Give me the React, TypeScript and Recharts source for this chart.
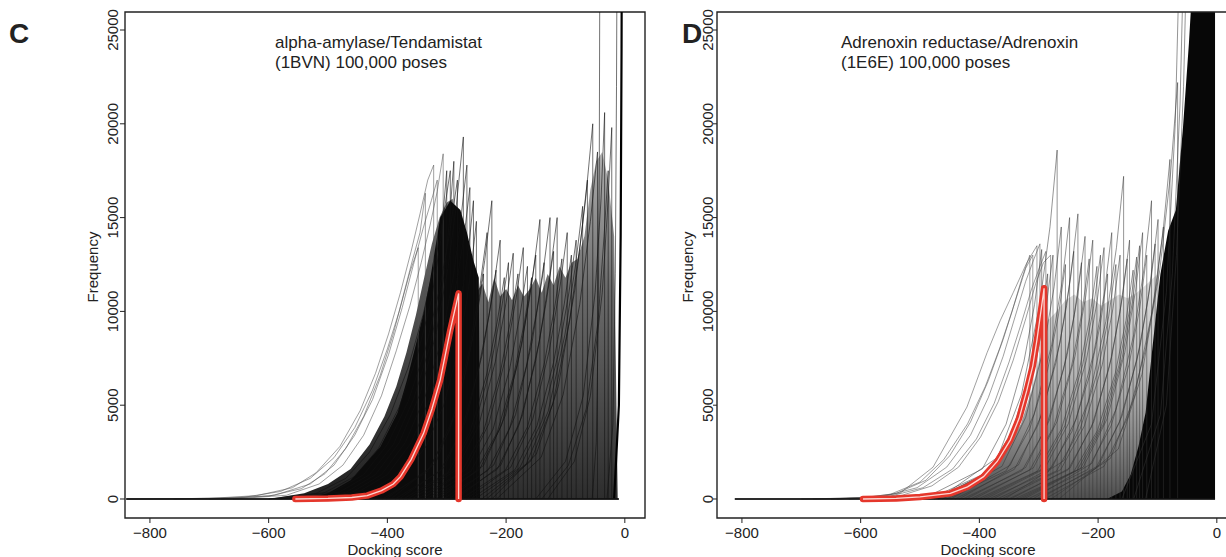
import React from 'react';
import { ComposedChart, Line, Area, XAxis, YAxis, ReferenceArea } from 'recharts';

type Pt = [number, number];

const FONT = '"Liberation Sans", Arial, Helvetica, sans-serif';

const xTicks = [-800, -600, -400, -200, 0];
const yTicks = [0, 5000, 10000, 15000, 20000, 25000];
const xDomain: [number, number] = [-842, 34];
const yDomain: [number, number] = [-1013, 25960];

// ---- panel C : alpha-amylase / Tendamistat ----
const cTitle = ['alpha-amylase/Tendamistat', '(1BVN) 100,000 poses'];

const cBase: Pt[] = [[-840, 0], [-640, 0], [-10, 0]];

// dense grey curves just left of the black core
const cBand: Pt[] = [
  [-600, 0], [-540, 300], [-500, 800], [-462, 1600], [-430, 2900], [-405, 4400],
  [-385, 6000], [-368, 7800], [-352, 9800], [-338, 11800], [-325, 13600], [-312, 15000],
  [-300, 15800], [-290, 16000], [-244, 0],
];

const cCoreMass: Pt[] = [
  [-540, 0], [-500, 300], [-462, 1000], [-412, 2770], [-383, 4580], [-367, 6340],
  [-353, 8100], [-339, 9900], [-328, 11700], [-311, 15000], [-294, 15900],
  [-277, 15400], [-266, 14200], [-255, 12700], [-246, 11800], [-244, 0],
];

const cMidMass: Pt[] = [
  [-250, 0], [-250, 11000], [-240, 11500], [-230, 10500], [-220, 11800], [-210, 10800],
  [-200, 11200], [-190, 10600], [-180, 11400], [-170, 10800], [-160, 11200], [-150, 11800],
  [-140, 11000], [-130, 12000], [-120, 11400], [-110, 12400], [-100, 11800], [-90, 12600],
  [-80, 12800], [-68, 14000], [-58, 16500], [-48, 18000], [-38, 18500], [-28, 17000],
  [-18, 14000], [-12, 0],
];

const cEnvelope: Pt[][] = [
  [[-840, 0], [-700, 30], [-620, 180], [-560, 600], [-520, 1400], [-480, 2800], [-446, 4700], [-420, 6700], [-398, 8800], [-378, 11000], [-360, 13200], [-345, 15200], [-332, 17000], [-322, 17800], [-322, 0]],
  [[-760, 0], [-640, 100], [-580, 400], [-530, 1100], [-490, 2200], [-455, 3800], [-425, 5800], [-400, 8000], [-380, 10000], [-362, 12100], [-348, 13400], [-348, 0]],
  [[-700, 0], [-600, 150], [-545, 550], [-505, 1350], [-470, 2700], [-440, 4400], [-412, 6600], [-390, 8800], [-372, 11000], [-358, 12700], [-345, 14200], [-336, 16300], [-336, 0]],
  [[-680, 0], [-590, 200], [-530, 800], [-490, 1800], [-455, 3400], [-425, 5300], [-398, 7700], [-375, 10200], [-356, 12500], [-340, 14400], [-326, 15900], [-316, 17000], [-316, 0]],
  [[-660, 0], [-570, 200], [-515, 800], [-475, 1800], [-440, 3400], [-410, 5500], [-385, 7900], [-362, 10300], [-343, 12600], [-328, 14600], [-316, 16400], [-306, 18400], [-306, 0]],
];

const cCoreLines: Pt[][] = [
  [[-600, 0], [-520, 300], [-470, 1100], [-430, 2500], [-395, 4500], [-365, 7000], [-340, 9800], [-320, 12600], [-306, 15000], [-294, 17500], [-294, 0]],
  [[-580, 0], [-505, 350], [-455, 1200], [-415, 2700], [-380, 4900], [-350, 7600], [-326, 10600], [-310, 13800], [-300, 17500], [-300, 0]],
  [[-560, 0], [-490, 400], [-440, 1300], [-400, 2900], [-365, 5200], [-336, 8000], [-312, 11200], [-296, 14000], [-282, 17000], [-282, 0]],
  [[-550, 0], [-480, 380], [-430, 1300], [-390, 2900], [-356, 5300], [-328, 8200], [-306, 11600], [-296, 14600], [-288, 18000], [-288, 0]],
  [[-540, 0], [-470, 350], [-420, 1300], [-380, 3000], [-345, 5600], [-318, 8800], [-298, 12300], [-284, 15600], [-272, 19300], [-272, 0]],
  [[-530, 0], [-460, 350], [-410, 1300], [-370, 3000], [-336, 5500], [-308, 8600], [-288, 12000], [-276, 15000], [-266, 17800], [-266, 0]],
  [[-520, 0], [-450, 350], [-400, 1300], [-360, 3000], [-328, 5400], [-302, 8400], [-282, 11800], [-270, 14200], [-261, 16600], [-261, 0]],
  [[-500, 0], [-430, 400], [-385, 1300], [-345, 3000], [-315, 5300], [-290, 8300], [-272, 11400], [-262, 13700], [-255, 15900], [-255, 0]],
  [[-490, 0], [-420, 380], [-375, 1200], [-335, 2800], [-305, 5000], [-282, 7800], [-266, 10600], [-257, 12800], [-250, 14800], [-250, 0]],
];

const cMidLines: Pt[][] = [
  [[-408, 0], [-333, 1440], [-296, 3600], [-268, 6720], [-250, 9600], [-238, 12000], [-238, 0]],
  [[-402, 0], [-327, 1700], [-290, 4260], [-262, 7950], [-244, 11360], [-232, 14200], [-232, 0]],
  [[-394, 0], [-319, 1910], [-282, 4770], [-254, 8900], [-236, 12720], [-224, 15900], [-224, 0]],
  [[-387, 0], [-312, 1460], [-275, 3660], [-247, 6830], [-229, 9760], [-217, 12200], [-217, 0]],
  [[-380, 0], [-305, 1660], [-268, 4140], [-240, 7730], [-222, 11040], [-210, 13800], [-210, 0]],
  [[-373, 0], [-298, 1420], [-261, 3540], [-233, 6610], [-215, 9440], [-203, 11800], [-203, 0]],
  [[-366, 0], [-291, 1510], [-254, 3780], [-226, 7060], [-208, 10080], [-196, 12600], [-196, 0]],
  [[-358, 0], [-283, 1570], [-246, 3930], [-218, 7340], [-200, 10480], [-188, 13100], [-188, 0]],
  [[-350, 0], [-275, 1440], [-238, 3600], [-210, 6720], [-192, 9600], [-180, 12000], [-180, 0]],
  [[-341, 0], [-266, 1610], [-229, 4020], [-201, 7500], [-183, 10720], [-171, 13400], [-171, 0]],
  [[-334, 0], [-259, 1490], [-222, 3720], [-194, 6940], [-176, 9920], [-164, 12400], [-164, 0]],
  [[-327, 0], [-252, 1420], [-215, 3540], [-187, 6610], [-169, 9440], [-157, 11800], [-157, 0]],
  [[-320, 0], [-245, 1560], [-208, 3900], [-180, 7280], [-162, 10400], [-150, 13000], [-150, 0]],
  [[-313, 0], [-238, 1790], [-201, 4470], [-173, 8340], [-155, 11920], [-143, 14900], [-143, 0]],
  [[-306, 0], [-231, 1510], [-194, 3780], [-166, 7060], [-148, 10080], [-136, 12600], [-136, 0]],
  [[-296, 0], [-221, 1800], [-184, 4500], [-156, 8400], [-138, 12000], [-126, 15000], [-126, 0]],
  [[-290, 0], [-215, 1580], [-178, 3960], [-150, 7390], [-132, 10560], [-120, 13200], [-120, 0]],
  [[-284, 0], [-209, 1800], [-172, 4500], [-144, 8400], [-126, 12000], [-114, 15000], [-114, 0]],
  [[-276, 0], [-201, 1540], [-164, 3840], [-136, 7170], [-118, 10240], [-106, 12800], [-106, 0]],
  [[-267, 0], [-192, 1700], [-155, 4260], [-127, 7950], [-109, 11360], [-97, 14200], [-97, 0]],
  [[-260, 0], [-185, 1560], [-148, 3900], [-120, 7280], [-102, 10400], [-90, 13000], [-90, 0]],
  [[-252, 0], [-177, 1660], [-140, 4140], [-112, 7730], [-94, 11040], [-82, 13800], [-82, 0]],
  [[-241, 0], [-166, 1870], [-129, 4680], [-101, 8740], [-83, 12480], [-71, 15600], [-71, 0]],
  [[-233, 0], [-158, 2040], [-121, 5100], [-93, 9520], [-75, 13600], [-63, 17000], [-63, 0]],
  [[-224, 0], [-149, 2400], [-112, 6000], [-84, 11200], [-66, 16000], [-54, 20000], [-54, 0]],
  [[-216, 0], [-141, 2220], [-104, 5550], [-76, 10360], [-58, 14800], [-46, 18500], [-46, 0]],
  [[-55, 0], [-48, 3000], [-45, 9000], [-43, 18000], [-42, 30000]],
  [[-150, 0], [-100, 2000], [-70, 5500], [-50, 11000], [-40, 16000], [-34, 20600], [-34, 0]],
  [[-140, 0], [-95, 1800], [-65, 4800], [-45, 9500], [-35, 14000], [-28, 17500], [-28, 0]],
  [[-130, 0], [-85, 2000], [-58, 5500], [-38, 11000], [-28, 16000], [-22, 19800], [-22, 0]],
  [[-30, 0], [-20, 4000], [-16, 12000], [-14, 22000], [-13, 30000]],
];

const cSpike: Pt[] = [[-18, 0], [-10, 5000], [-7, 14000], [-5.5, 24000], [-5, 30000]];

const cRed: Pt[] = [
  [-555, 0], [-500, 30], [-460, 80], [-434, 180], [-410, 450], [-390, 800], [-378, 1190],
  [-360, 2100], [-339, 3500], [-325, 4800], [-311, 6340], [-294, 9000], [-280, 10960], [-280, 0],
];

// ---- panel D : Adrenoxin reductase / Adrenoxin ----
const dTitle = ['Adrenoxin reductase/Adrenoxin', '(1E6E) 100,000 poses'];

const dBase: Pt[] = [[-812, 0], [-600, 0], [-3, 0]];

const dBand: Pt[] = [
  [-520, 0], [-450, 400], [-400, 1200], [-360, 2500], [-330, 4000], [-310, 6000],
  [-295, 8000], [-285, 9500], [-270, 10000], [-255, 10600], [-240, 10900], [-225, 10500],
  [-210, 10700], [-195, 10300], [-180, 10600], [-165, 10900], [-150, 10700], [-135, 11000],
  [-120, 11400], [-100, 12000], [-90, 0],
];

const dDenseMass: Pt[] = [
  [-185, 0], [-160, 400], [-145, 1300], [-132, 2800], [-120, 4600], [-108, 8200],
  [-95, 12000], [-82, 14300], [-69, 15400], [-57, 19800], [-47, 24300], [-42, 27000],
  [-3, 27000], [-3, 0],
];

const dEnvelope: Pt[][] = [
  [[-812, 0], [-640, 0], [-580, 100], [-534, 300], [-478, 1700], [-421, 4900], [-387, 7800], [-365, 9500], [-343, 11000], [-320, 12600], [-303, 13500], [-303, 0]],
  [[-700, 0], [-600, 60], [-550, 250], [-500, 900], [-460, 2100], [-420, 4000], [-390, 6000], [-365, 8100], [-345, 10000], [-328, 11800], [-315, 13000], [-315, 0]],
  [[-680, 0], [-590, 80], [-540, 300], [-490, 1000], [-450, 2300], [-415, 4100], [-385, 6300], [-360, 8500], [-340, 10500], [-322, 12300], [-310, 13000], [-310, 0]],
  [[-650, 0], [-560, 150], [-505, 600], [-455, 1700], [-415, 3400], [-385, 5400], [-360, 7600], [-340, 9700], [-322, 11600], [-308, 12800], [-298, 13600], [-298, 0]],
  [[-640, 0], [-550, 150], [-495, 600], [-445, 1600], [-405, 3200], [-375, 5100], [-350, 7300], [-330, 9300], [-312, 11200], [-298, 12400], [-288, 13200], [-288, 0]],
  [[-620, 0], [-530, 200], [-480, 700], [-435, 1700], [-398, 3300], [-368, 5200], [-343, 7400], [-322, 9600], [-305, 11500], [-292, 12600], [-280, 13000], [-280, 0]],
];

const dMidLines: Pt[][] = [
  [[-495, 0], [-395, 1600], [-355, 3990], [-325, 7320], [-307, 10370], [-295, 13300], [-295, 0]],
  [[-485, 0], [-385, 1440], [-345, 3600], [-315, 6600], [-297, 9360], [-285, 12000], [-285, 0]],
  [[-476, 0], [-376, 1560], [-336, 3900], [-306, 7150], [-288, 10140], [-276, 13000], [-276, 0]],
  [[-469, 0], [-369, 2230], [-329, 5580], [-299, 10230], [-281, 14510], [-269, 18600], [-269, 0]],
  [[-462, 0], [-362, 1740], [-322, 4350], [-292, 7980], [-274, 11310], [-262, 14500], [-262, 0]],
  [[-455, 0], [-355, 1500], [-315, 3750], [-285, 6880], [-267, 9750], [-255, 12500], [-255, 0]],
  [[-448, 0], [-348, 1800], [-308, 4500], [-278, 8250], [-260, 11700], [-248, 15000], [-248, 0]],
  [[-441, 0], [-341, 1580], [-301, 3960], [-271, 7260], [-253, 10300], [-241, 13200], [-241, 0]],
  [[-434, 0], [-334, 1820], [-294, 4560], [-264, 8360], [-246, 11860], [-234, 15200], [-234, 0]],
  [[-428, 0], [-328, 1510], [-288, 3780], [-258, 6930], [-240, 9830], [-228, 12600], [-228, 0]],
  [[-422, 0], [-322, 1680], [-282, 4200], [-252, 7700], [-234, 10920], [-222, 14000], [-222, 0]],
  [[-415, 0], [-315, 1540], [-275, 3840], [-245, 7040], [-227, 9980], [-215, 12800], [-215, 0]],
  [[-409, 0], [-309, 1660], [-269, 4140], [-239, 7590], [-221, 10760], [-209, 13800], [-209, 0]],
  [[-402, 0], [-302, 1490], [-262, 3720], [-232, 6820], [-214, 9670], [-202, 12400], [-202, 0]],
  [[-396, 0], [-296, 1560], [-256, 3900], [-226, 7150], [-208, 10140], [-196, 13000], [-196, 0]],
  [[-390, 0], [-290, 1610], [-250, 4020], [-220, 7370], [-202, 10450], [-190, 13400], [-190, 0]],
  [[-384, 0], [-284, 1440], [-244, 3600], [-214, 6600], [-196, 9360], [-184, 12000], [-184, 0]],
  [[-377, 0], [-277, 1700], [-237, 4260], [-207, 7810], [-189, 11080], [-177, 14200], [-177, 0]],
  [[-370, 0], [-270, 1500], [-230, 3750], [-200, 6880], [-182, 9750], [-170, 12500], [-170, 0]],
  [[-363, 0], [-263, 1560], [-223, 3900], [-193, 7150], [-175, 10140], [-163, 13000], [-163, 0]],
  [[-357, 0], [-257, 2060], [-217, 5160], [-187, 9460], [-169, 13420], [-157, 17200], [-157, 0]],
  [[-351, 0], [-251, 1540], [-211, 3840], [-181, 7040], [-163, 9980], [-151, 12800], [-151, 0]],
  [[-347, 0], [-247, 1660], [-207, 4140], [-177, 7590], [-159, 10760], [-147, 13800], [-147, 0]],
  [[-341, 0], [-241, 1460], [-201, 3660], [-171, 6710], [-153, 9520], [-141, 12200], [-141, 0]],
  [[-335, 0], [-235, 1550], [-195, 3870], [-165, 7100], [-147, 10060], [-135, 12900], [-135, 0]],
  [[-330, 0], [-230, 1620], [-190, 4050], [-160, 7430], [-142, 10530], [-130, 13500], [-130, 0]],
  [[-325, 0], [-225, 1700], [-185, 4260], [-155, 7810], [-137, 11080], [-125, 14200], [-125, 0]],
  [[-318, 0], [-218, 1560], [-178, 3900], [-148, 7150], [-130, 10140], [-118, 13000], [-118, 0]],
  [[-310, 0], [-210, 1910], [-170, 4770], [-140, 8750], [-122, 12400], [-110, 15900], [-110, 0]],
  [[-304, 0], [-204, 1630], [-164, 4080], [-134, 7480], [-116, 10610], [-104, 13600], [-104, 0]],
  [[-299, 0], [-199, 1790], [-159, 4470], [-129, 8200], [-111, 11620], [-99, 14900], [-99, 0]],
  [[-290, 0], [-190, 1740], [-150, 4350], [-120, 7980], [-102, 11310], [-90, 14500], [-90, 0]],
  [[-279, 0], [-179, 2170], [-139, 5430], [-109, 9960], [-91, 14120], [-79, 18100], [-79, 0]],
  [[-266, 0], [-166, 2660], [-126, 6660], [-96, 12210], [-78, 17320], [-66, 22200], [-66, 0]],
  [[-160, 0], [-110, 4000], [-85, 11000], [-70, 20000], [-62, 30000]],
  [[-140, 0], [-95, 4500], [-75, 12000], [-62, 21000], [-55, 30000]],
  [[-120, 0], [-85, 5000], [-68, 13000], [-56, 22000], [-50, 30000]],
];

const dRed: Pt[] = [
  [-596, 0], [-540, 30], [-500, 110], [-449, 300], [-420, 650], [-393, 1190], [-370, 2000],
  [-348, 3140], [-333, 4300], [-320, 5800], [-310, 7100], [-303, 8480], [-291, 11230], [-291, 0],
];

const toRows = (pts: Pt[]) => pts.map(([x, y]) => ({ x, y }));

const fmtX = (v: number) => (v < 0 ? `\u2212${-v}` : `${v}`);

const XTick = ({ x, y, payload }: any) => (
  <text x={x} y={y + 13} textAnchor="middle" fontSize={15} fill="#222" fontFamily={FONT}>
    {fmtX(payload.value)}
  </text>
);

const YTick = ({ x, y, payload }: any) => (
  <text
    x={x}
    y={y}
    textAnchor="middle"
    fontSize={15}
    fill="#222"
    fontFamily={FONT}
    transform={`rotate(-90, ${x}, ${y})`}
  >
    {payload.value}
  </text>
);

const thin = (key: string, pts: Pt[], color: string, w = 0.7, op = 0.85) => (
  <Line
    key={key}
    data={toRows(pts)}
    dataKey="y"
    type="linear"
    stroke={color}
    strokeWidth={w}
    strokeOpacity={op}
    dot={false}
    activeDot={false}
    legendType="none"
    isAnimationActive={false}
  />
);

const mass = (key: string, pts: Pt[], fill: string, op = 1) => (
  <Area
    key={key}
    data={toRows(pts)}
    dataKey="y"
    type="linear"
    fill={fill}
    fillOpacity={op}
    stroke="none"
    baseValue={0}
    legendType="none"
    isAnimationActive={false}
  />
);

const redCurve = (key: string, pts: Pt[]) => [
  <Line
    key={key + '-r'}
    data={toRows(pts)}
    dataKey="y"
    type="linear"
    stroke="#e5372c"
    strokeWidth={6.5}
    strokeLinecap="round"
    strokeLinejoin="round"
    dot={false}
    activeDot={false}
    legendType="none"
    isAnimationActive={false}
  />,
  <Line
    key={key + '-w'}
    data={toRows(pts)}
    dataKey="y"
    type="linear"
    stroke="#ffe9e6"
    strokeWidth={1.3}
    strokeOpacity={0.9}
    dot={false}
    activeDot={false}
    legendType="none"
    isAnimationActive={false}
  />,
];

const axes = (yTickSize: number, yTickMargin: number, yWidth: number) => [
  <XAxis
    key="x"
    dataKey="x"
    type="number"
    domain={xDomain}
    ticks={xTicks}
    interval={0}
    allowDataOverflow
    height={39}
    axisLine={false}
    tickLine={{ stroke: '#222' }}
    tickSize={5}
    tickMargin={2}
    tick={<XTick />}
  />,
  <YAxis
    key="y"
    type="number"
    domain={yDomain}
    ticks={yTicks}
    interval={0}
    allowDataOverflow
    width={yWidth}
    axisLine={false}
    tickLine={{ stroke: '#222' }}
    tickSize={yTickSize}
    tickMargin={yTickMargin}
    tick={<YTick />}
  />,
];

const frame = (
  <ReferenceArea
    x1={xDomain[0]}
    x2={xDomain[1]}
    y1={yDomain[0]}
    y2={yDomain[1]}
    fill="none"
    fillOpacity={0}
    stroke="#222"
    strokeWidth={1.4}
  />
);

const PanelC = () => (
  <ComposedChart width={660} height={557} margin={{ top: 12, right: 15, bottom: 0, left: 0 }}>
    <defs>
      <linearGradient id="cMidFill" x1="0" y1="0" x2="0" y2="1">
        <stop offset="0%" stopColor="#6a6a6a" stopOpacity={0.55} />
        <stop offset="40%" stopColor="#505050" stopOpacity={0.85} />
        <stop offset="100%" stopColor="#222" stopOpacity={0.95} />
      </linearGradient>
      <linearGradient id="cBandFill" x1="0" y1="0" x2="0" y2="1">
        <stop offset="0%" stopColor="#444" stopOpacity={0.8} />
        <stop offset="100%" stopColor="#151515" stopOpacity={0.95} />
      </linearGradient>
    </defs>
    {axes(5, 2, 125)}
    {mass('cmid', cMidMass, 'url(#cMidFill)')}
    {mass('cband', cBand, 'url(#cBandFill)')}
    {cEnvelope.map((c, i) => thin(`ce${i}`, c, '#555', 0.7, 0.8))}
    {mass('ccore', cCoreMass, '#0b0b0b')}
    {cCoreLines.map((c, i) => thin(`cc${i}`, c, '#111'))}
    {cMidLines.map((c, i) => thin(`cm${i}`, c, '#111'))}
    {thin('cs', cSpike, '#000', 2.2, 1)}
    {thin('cb', cBase, '#111', 2, 0.9)}
    {redCurve('cr', cRed)}
    {frame}
  </ComposedChart>
);

const PanelD = () => (
  <ComposedChart width={652} height={557} margin={{ top: 12, right: 15, bottom: 0, left: 0 }}>
    <defs>
      <linearGradient id="dBandFill" x1="0" y1="0" x2="0" y2="1">
        <stop offset="0%" stopColor="#aaa" stopOpacity={0.35} />
        <stop offset="55%" stopColor="#8a8a8a" stopOpacity={0.75} />
        <stop offset="100%" stopColor="#3a3a3a" stopOpacity={0.9} />
      </linearGradient>
    </defs>
    {axes(4, 0, 117)}
    {mass('dband', dBand, 'url(#dBandFill)')}
    {dEnvelope.map((c, i) => thin(`de${i}`, c, '#555', 0.7, 0.8))}
    {dMidLines.map((c, i) => thin(`dm${i}`, c, '#333', 0.7, 0.75))}
    {mass('ddense', dDenseMass, '#070707')}
    {thin('db', dBase, '#111', 2, 0.85)}
    {redCurve('dr', dRed)}
    {frame}
  </ComposedChart>
);

const textStyle = { fontFamily: FONT, fill: '#222' };

export default function App() {
  return (
    <div style={{ position: 'fixed', left: 0, top: 0, width: 1226, height: 557, overflow: 'hidden', background: '#fff' }}>
      <div style={{ position: 'absolute', left: 0, top: 0 }}>
        <PanelC />
      </div>
      <div style={{ position: 'absolute', left: 600, top: 0 }}>
        <PanelD />
      </div>
      <svg width={1226} height={557} style={{ position: 'absolute', left: 0, top: 0, pointerEvents: 'none' }}>
        <text x={9} y={43} fontSize={28} fontWeight="bold" style={textStyle}>C</text>
        <text x={682} y={43} fontSize={28} fontWeight="bold" style={textStyle}>D</text>
        <text x={275} y={48} fontSize={17} style={textStyle}>{cTitle[0]}</text>
        <text x={275} y={68} fontSize={17} style={textStyle}>{cTitle[1]}</text>
        <text x={841} y={48} fontSize={17} style={textStyle}>{dTitle[0]}</text>
        <text x={841} y={68} fontSize={17} style={textStyle}>{dTitle[1]}</text>
        <text x={98} y={267} fontSize={15} textAnchor="middle" transform="rotate(-90, 98, 267)" style={textStyle}>Frequency</text>
        <text x={693} y={267} fontSize={15} textAnchor="middle" transform="rotate(-90, 693, 267)" style={textStyle}>Frequency</text>
        <text x={395} y={555} fontSize={15} textAnchor="middle" style={textStyle}>Docking score</text>
        <text x={988} y={555} fontSize={15} textAnchor="middle" style={textStyle}>Docking score</text>
      </svg>
    </div>
  );
}
